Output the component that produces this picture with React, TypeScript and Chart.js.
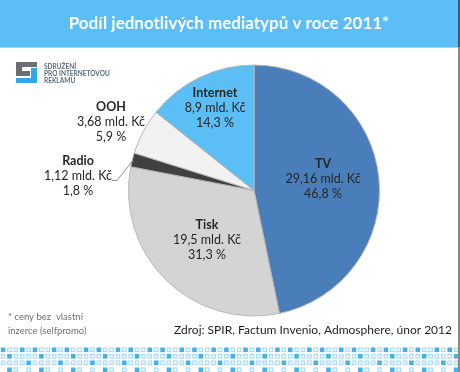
import React, { useEffect, useRef } from "react";
import { Chart, registerables } from "chart.js";

Chart.register(...registerables);

const TITLE = "Podíl jednotlivých mediatypů v roce 2011*";
const categories = ["TV", "Tisk", "Radio", "OOH", "Internet"];
const valuesMld = [29.16, 19.5, 1.12, 3.68, 8.9];
const percents = [46.8, 31.3, 1.8, 5.9, 14.3];
const sliceColors = ["#4a7ebb", "#d4d4d4", "#404040", "#f2f2f2", "#5bbff5"];
const footnote = ["* ceny bez  vlastní", "inzerce (selfpromo)"];
const source = "Zdroj: SPIR, Factum Invenio, Admosphere, únor 2012";
const logoText = ["SDRUŽENÍ", "PRO INTERNETOVOU", "REKLAMU"];

// layout of label blocks (first-line centre)
const labelPos = [
  { x: 323, y: 164 },
  { x: 207, y: 225 },
  { x: 78, y: 161 },
  { x: 111, y: 107 },
  { x: 215, y: 93 },
];

const fmt = (v: number) => String(v).replace(".", ",");

const FONT = "Lato, 'Open Sans', sans-serif";

const decorPlugin = {
  id: "decor",
  beforeDraw(chart: any) {
    const ctx = chart.ctx as CanvasRenderingContext2D;
    const W = chart.width;
    const H = chart.height;
    ctx.save();
    ctx.fillStyle = "#ffffff";
    ctx.fillRect(0, 0, W, H);
    // header
    ctx.fillStyle = "#5bbef6";
    ctx.fillRect(0, 0, W, 47);
    ctx.fillStyle = "#9fd8f8";
    ctx.fillRect(0, 47, W, 1);
    ctx.fillStyle = "#ffffff";
    ctx.font = `bold 17px ${FONT}`;
    ctx.textAlign = "center";
    ctx.textBaseline = "middle";
    ctx.fillText(TITLE, 229, 24);

    // logo
    ctx.fillStyle = "#6b6f73";
    ctx.fillRect(16, 62, 21, 5);
    ctx.fillRect(16, 62, 6, 14);
    ctx.fillRect(16, 71, 14, 5);
    ctx.fillStyle = "#2fa8e8";
    ctx.fillRect(31, 68, 6, 15);
    ctx.fillRect(16, 78, 21, 5);
    ctx.fillStyle = "#5b6b7b";
    ctx.font = `bold 6.5px ${FONT}`;
    ctx.textAlign = "left";
    logoText.forEach((t, i) => ctx.fillText(t, 44, 67 + i * 7));

    // footer squares
    const rowsY = [347.5, 354, 360.5, 367.5];
    const step = 6.38;
    for (let r = 0; r < 4; r++) {
      for (let c = 0; c < 73; c++) {
        const m = c % 5;
        let kind = "o";
        if (r === 0) kind = m === 0 || m === 3 ? "f" : "o";
        if (r === 1) kind = m === 1 ? "f" : "o";
        if (r === 2) kind = m === 4 ? "f" : "o";
        if (r === 3) kind = m === 1 ? "f" : m === 2 || m === 4 ? "o" : "n";
        if (kind === "n") continue;
        const x = 0.8 + c * step;
        const y = rowsY[r];
        if (kind === "f") {
          ctx.fillStyle = "#46b0ec";
          ctx.fillRect(x, y, 4.6, 4.6);
        } else {
          ctx.fillStyle = "#eef8fe";
          ctx.fillRect(x, y, 4.6, 4.6);
          ctx.strokeStyle = "#a5d9f6";
          ctx.lineWidth = 1;
          ctx.strokeRect(x + 0.5, y + 0.5, 3.6, 3.6);
        }
      }
    }

    // right edge
    ctx.fillStyle = "#8a8a8a";
    ctx.fillRect(458, 0, 2, H);
    ctx.fillStyle = "#3a5670";
    ctx.fillRect(458, 0, 2, 47);
    ctx.restore();
  },
  afterDraw(chart: any) {
    const ctx = chart.ctx as CanvasRenderingContext2D;
    ctx.save();
    ctx.textAlign = "center";
    ctx.textBaseline = "middle";
    ctx.fillStyle = "#262626";
    categories.forEach((cat, i) => {
      const p = labelPos[i];
      ctx.font = `bold 12.5px ${FONT}`;
      ctx.fillText(cat, p.x, p.y);
      ctx.font = `12.5px ${FONT}`;
      ctx.fillText(`${fmt(valuesMld[i])} mld. Kč`, p.x, p.y + 15);
      ctx.fillText(`${fmt(percents[i])} %`, p.x, p.y + 30);
    });
    // leader line for Radio
    const meta = chart.getDatasetMeta(0);
    const arc = meta.data[2];
    const mid = (arc.startAngle + arc.endAngle) / 2;
    const ex = arc.x + Math.cos(mid) * (arc.outerRadius - 1);
    const ey = arc.y + Math.sin(mid) * (arc.outerRadius - 1);
    ctx.strokeStyle = "#8c8c8c";
    ctx.lineWidth = 1;
    ctx.beginPath();
    ctx.moveTo(112, 180.5);
    ctx.lineTo(117, 180.5);
    ctx.lineTo(ex, ey);
    ctx.stroke();

    // footnotes
    ctx.textAlign = "left";
    ctx.fillStyle = "#707070";
    ctx.font = `9.5px ${FONT}`;
    footnote.forEach((t, i) => ctx.fillText(t, 8, 317 + i * 14));
    ctx.textAlign = "right";
    ctx.fillStyle = "#1e1e1e";
    ctx.font = `12px ${FONT}`;
    ctx.fillText(source, 452, 330);
    ctx.restore();
  },
};

export default function App() {
  const ref = useRef<HTMLCanvasElement | null>(null);
  useEffect(() => {
    document.body.style.margin = "0";
    const canvas = ref.current!;
    const chart = new Chart(canvas, {
      type: "pie",
      data: {
        labels: categories,
        datasets: [
          {
            data: valuesMld,
            backgroundColor: sliceColors,
            borderColor: "#b8b8b8",
            borderWidth: 1,
            hoverOffset: 0,
          },
        ],
      },
      options: {
        responsive: false,
        animation: false,
        events: [],
        layout: { padding: { left: 128, right: 80, top: 64.5, bottom: 55.5 } },
        plugins: {
          legend: { display: false },
          tooltip: { enabled: false },
          title: { display: false },
        },
      },
      plugins: [decorPlugin],
    });
    return () => chart.destroy();
  }, []);
  return <canvas ref={ref} width={460} height={372} style={{ display: "block" }} />;
}
